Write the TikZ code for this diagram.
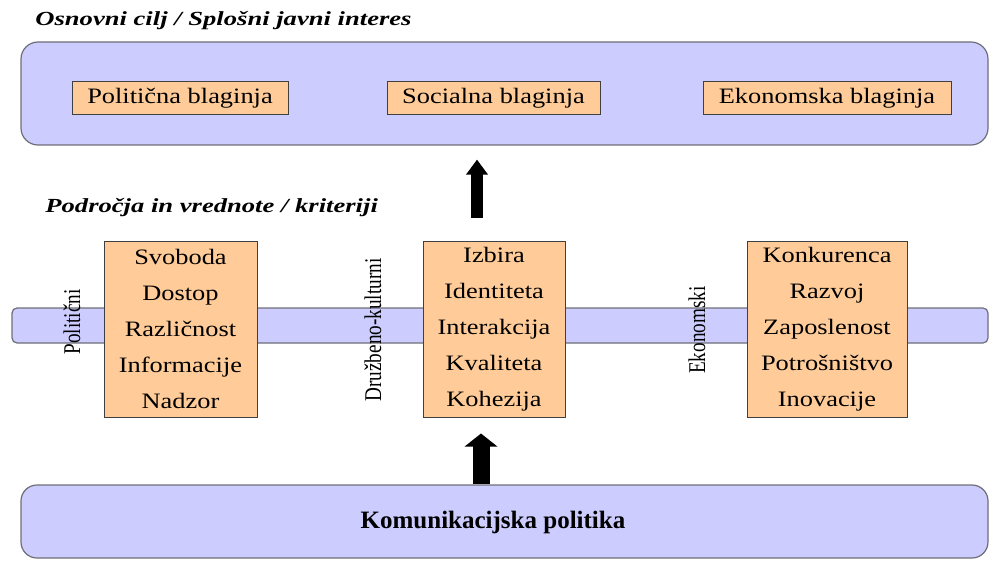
\documentclass[tikz,border=0pt]{standalone}
\usepackage{fontspec}
\setmainfont{Liberation Serif}
\newfontfamily\titlefont[FakeStretch=1.33]{Liberation Serif}
\newfontfamily\boxfont[FakeStretch=1.2]{Liberation Serif}
\newfontfamily\sidefont[FakeStretch=0.8]{Liberation Serif}
\usetikzlibrary{arrows.meta}
\definecolor{lilac}{HTML}{CCCCFF}
\definecolor{peach}{HTML}{FFCC99}
\definecolor{rimgray}{HTML}{6E6E78}

\begin{document}
\begin{tikzpicture}[x=0.5pt, y=-0.5pt,
  bandstyle/.style={draw=rimgray, fill=lilac, line width=0.6pt, inner sep=0pt},
  textstyle/.style={draw=black!75, fill=peach, line width=0.5pt, inner sep=0pt, align=center, text centered, font=\boxfont\fontsize{11}{18}\selectfont},
  headstyle/.style={anchor=west, inner sep=0pt, font=\titlefont\fontsize{10}{12}\selectfont\bfseries\itshape},
  sidestyle/.style={rotate=90, inner sep=0pt, font=\sidefont\fontsize{12}{14}\selectfont}]
  \useasboundingbox (0,0) rectangle (989,561);

  % goal
  \node [headstyle] (GoalTitle) at (35,21) {Osnovni cilj / Splošni javni interes};
  \node [bandstyle, rounded corners=8.5pt, minimum width=483.5pt, minimum height=51.5pt] (Goal) at (504.5,93.5) {};
  \node [textstyle, minimum width=108pt, minimum height=16.5pt] (PolWel) at (180,98.5) {Politična blaginja};
  \node [textstyle, minimum width=106.5pt, minimum height=16.5pt] (SocWel) at (493.5,98.5) {Socialna blaginja};
  \node [textstyle, minimum width=124pt, minimum height=16.5pt] (EcoWel) at (827,98.5) {Ekonomska blaginja};

  % values
  \node [headstyle] (ValTitle) at (45,208) {Področja in vrednote / kriteriji};
  \node [bandstyle, rounded corners=2.5pt, minimum width=488pt, minimum height=17.5pt] (Bar) at (500,325.5) {};
  \node [sidestyle] (PolSide) at (72,322) {Politični};
  \node [sidestyle] (SocSide) at (373,330) {Družbeno-kulturni};
  \node [sidestyle] (EcoSide) at (697,330) {Ekonomski};
  \node [textstyle, minimum width=76.5pt, minimum height=88pt] (PolVal) at (180.5,329) {Svoboda\\Dostop\\Različnost\\Informacije\\Nadzor};
  \node [textstyle, minimum width=71pt, minimum height=88pt] (SocVal) at (494,329) {Izbira\\Identiteta\\Interakcija\\Kvaliteta\\Kohezija};
  \node [textstyle, minimum width=80pt, minimum height=88pt] (EcoVal) at (827,329) {Konkurenca\\Razvoj\\Zaposlenost\\Potrošništvo\\Inovacije};

  % policy
  \node [bandstyle, rounded corners=8pt, minimum width=483.5pt, minimum height=36.5pt] (ComPol) at (504.5,521.5) {};
  \node [inner sep=0pt, font=\fontsize{12.5}{14}\selectfont\bfseries] (ComPolText) at (493,522) {Komunikacijska politika};

  \coordinate (ArrTop) at (477,0);
  \coordinate (ArrLow) at (481,0);
  \draw [-{Triangle[width=10.5pt, length=7.5pt]}, line width=6pt, shorten <=11pt, shorten >=7pt] (SocVal.north -| ArrTop) -- (Goal.south -| ArrTop);
  \draw [-{Triangle[width=16pt, length=6.5pt]}, line width=8.5pt, shorten >=8pt] (ComPol.north -| ArrLow) -- (SocVal.south -| ArrLow);
\end{tikzpicture}
\end{document}
